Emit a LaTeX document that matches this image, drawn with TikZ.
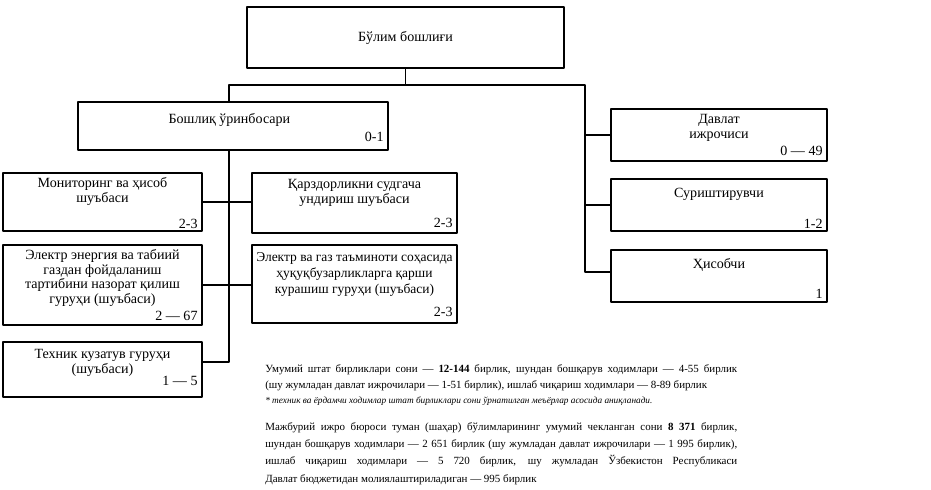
\documentclass[tikz,border=0pt]{standalone}
\usepackage{fontspec}
\setmainfont{Liberation Serif}
\usetikzlibrary{positioning}

\begin{document}
\begin{tikzpicture}[x=1cm,y=1cm,line cap=round,line join=round,
    box/.style={draw,line width=0.9pt,inner sep=0pt},
    boxtext/.style={inner sep=0pt,align=center,font=\fontsize{10}{10.3}\selectfont},
    num/.style={inner sep=0pt,font=\fontsize{10}{10.3}\selectfont},
    link/.style={line width=0.8pt},
    para/.style={inner sep=0pt,text width=11.8cm,align=justify,font=\fontsize{7.8}{11.4}\selectfont}]
    \useasboundingbox (0,0) rectangle (23.275,12.25);

    % Jefatura
    \node[box,minimum width=7.925cm,minimum height=1.525cm] (head) at (10.1375,11.3125) {};
    \node[boxtext] (headT) at (head) {Бўлим бошлиғи};

    \node[box,minimum width=7.75cm,minimum height=1.2cm] (deputy) at (5.825,9.1) {};
    \node[boxtext,below=0.3 of deputy.north,xshift=-0.09cm] (deputyT) {Бошлиқ ўринбосари};
    \node[num,above left=0.21 and 0.12 of deputy.south east] (deputyN) {0-1};

    % Columna izquierda
    \node[box,minimum width=4.975cm,minimum height=1.45cm] (mon) at (2.5625,7.2) {};
    \node[boxtext,below=0.125 of mon.north] (monT) {Мониторинг ва ҳисоб\\шуъбаси};
    \node[num,above left=0.06 and 0.12 of mon.south east] (monN) {2-3};

    \node[box,minimum width=4.975cm,minimum height=2cm] (elec) at (2.5625,5.125) {};
    \node[boxtext,below=0.125 of elec.north] (elecT) {Электр энергия ва табиий\\газдан фойдаланиш\\тартибини назорат қилиш\\гуруҳи (шуъбаси)};
    \node[num,above left=0.11 and 0.12 of elec.south east] (elecN) {2 — 67};

    \node[box,minimum width=4.975cm,minimum height=1.375cm] (tech) at (2.5625,3.0125) {};
    \node[boxtext,below=0.2 of tech.north] (techT) {Техник кузатув гуруҳи\\(шуъбаси)};
    \node[num,above left=0.29 and 0.12 of tech.south east] (techN) {1 — 5};

    % Columna central
    \node[box,minimum width=5.125cm,minimum height=1.5cm] (debt) at (8.8625,7.175) {};
    \node[boxtext,below=0.175 of debt.north] (debtT) {Қарздорликни судгача\\ундириш шуъбаси};
    \node[num,above left=0.15 and 0.12 of debt.south east] (debtN) {2-3};

    \node[box,minimum width=5.125cm,minimum height=1.95cm] (gas) at (8.8625,5.15) {};
    \node[boxtext,font=\fontsize{9.6}{11.3}\selectfont,below=0.2 of gas.north] (gasT) {Электр ва газ таъминоти соҳасида\\ҳуқуқбузарликларга қарши\\курашиш гуруҳи (шуъбаси)};
    \node[num,above left=0.16 and 0.12 of gas.south east] (gasN) {2-3};

    % Columna derecha
    \node[box,minimum width=5.4cm,minimum height=1.3cm] (bail) at (17.975,8.875) {};
    \node[boxtext,below=0.15 of bail.north] (bailT) {Давлат\\ижрочиси};
    \node[num,above left=0.14 and 0.12 of bail.south east] (bailN) {0 — 49};

    \node[box,minimum width=5.4cm,minimum height=1.3cm] (inq) at (17.975,7.125) {};
    \node[boxtext,below=0.25 of inq.north] (inqT) {Суриштирувчи};
    \node[num,above left=0.06 and 0.12 of inq.south east] (inqN) {1-2};

    \node[box,minimum width=5.4cm,minimum height=1.3cm] (acct) at (17.975,5.35) {};
    \node[boxtext,below=0.22 of acct.north] (acctT) {Ҳисобчи};
    \node[num,above left=0.1 and 0.12 of acct.south east] (acctN) {1};

    % Lineas de subordinacion
    \coordinate (busL) at (5.725,10.125);
    \coordinate (busR) at (14.625,10.125);
    \coordinate (trunkEnd) at (5.725,3.2);
    \coordinate (acctIn) at (14.625,5.45);
    \draw[link] (head.south) -- (head.south |- busL);
    \draw[link] (busL |- deputy.north) -- (busL) -- (busR) -- (acctIn) -- (acctIn -| acct.west);
    \draw[link] (busR |- bail.west) -- (bail.west);
    \draw[link] (busR |- inq.west) -- (inq.west);
    \draw[link] (busL |- deputy.south) -- (trunkEnd) -- (trunkEnd -| tech.east);
    \draw[link] (mon.east) -- (mon.east -| debt.west);
    \draw[link] (elec.east) -- (elec.east -| gas.west);

    % Notas
    \node[para,anchor=north west] (para1) at (6.625,3.15) {Умумий штат бирликлари сони — \textbf{12-144} бирлик, шундан бошқарув ходимлари — 4-55 бирлик\linebreak (шу жумладан давлат ижрочилари — 1-51 бирлик), ишлаб чиқариш ходимлари — 8-89 бирлик};
    \node[para,font=\fontsize{6.6}{9}\selectfont\itshape,below=0.15 of para1.south west,anchor=north west] (star) {* техник ва ёрдамчи ходимлар штат бирликлари сони ўрнатилган меъёрлар асосида аниқланади.};
    \node[para,font=\fontsize{7.8}{12.3}\selectfont,below=0.4 of star.south west,anchor=north west] (para2) {Мажбурий ижро бюроси туман (шаҳар) бўлимларининг умумий чекланган сони \textbf{8 371} бирлик,\linebreak шундан бошқарув ходимлари — 2 651 бирлик (шу жумладан давлат ижрочилари — 1 995 бирлик),\linebreak ишлаб чиқариш ходимлари — 5 720 бирлик, шу жумладан Ўзбекистон Республикаси\linebreak Давлат бюджетидан молиялаштириладиган — 995 бирлик};
\end{tikzpicture}
\end{document}
